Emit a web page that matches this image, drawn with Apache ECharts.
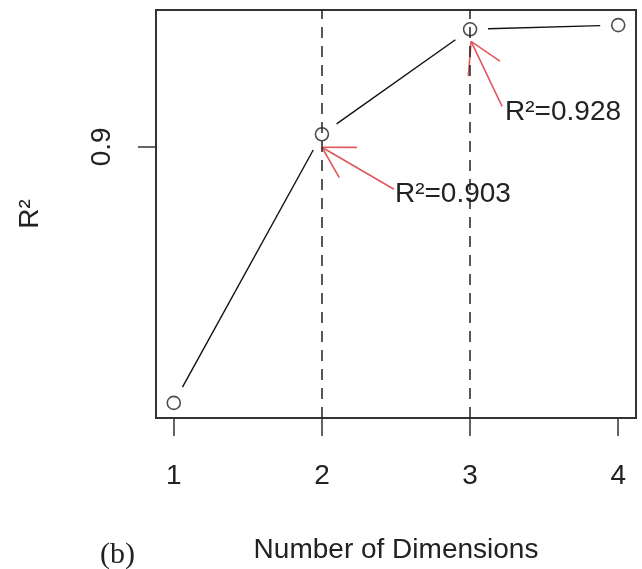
<!DOCTYPE html>
<html><head><meta charset="utf-8">
<script src="https://cdn.jsdelivr.net/npm/echarts@6/dist/echarts.min.js"></script>
<style>html,body{margin:0;padding:0;background:#fff}#c{width:642px;height:569px}</style>
</head><body><div id="c"></div>
<script>
// ---- data ----
const dims = [1, 2, 3, 4];
const r2 = [0.839, 0.903, 0.928, 0.929];
const xTicks = [1, 2, 3, 4];
const yTicks = [0.9];
const dashedAt = [2, 3];
const annDims = [2, 3];
const annValues = [0.903, 0.928];
const annTexts = ['R²=0.903', 'R²=0.928'];
const xTitle = 'Number of Dimensions';
const yTitle = 'R²';
const panelTag = '(b)';

// ---- styles ----
const FONT = '"Liberation Sans", Arial, sans-serif';
const TXT = '#222';
const RED = '#e0585c';
const annStyle = [
  { tip: [0, 13], tail: [72, 55], text: [73, 60] },
  { tip: [1, 12], tail: [32, 77], text: [35, 83] }
];
const GAP = 18;

const chart = echarts.init(document.getElementById('c'), null, { renderer: 'canvas' });

const segData = dims.slice(1).map((d, i) => [dims[i], r2[i], d, r2[i + 1]]);
const annData = annDims.map((d, i) => [d, annValues[i], i]);

function rot(vx, vy, a) {
  const c = Math.cos(a), s = Math.sin(a);
  return [vx * c - vy * s, vx * s + vy * c];
}

chart.setOption({
  animation: false,
  backgroundColor: '#fff',
  grid: { left: 156, right: 6, top: 10, bottom: 146, show: true, borderColor: '#333', borderWidth: 2, backgroundColor: 'transparent' },
  xAxis: {
    type: 'value', min: 0.88, max: 4.12,
    splitLine: { show: false },
    axisLine: { show: false },
    axisTick: { show: true, customValues: xTicks, length: 18, lineStyle: { color: '#333', width: 1.5 } },
    axisLabel: { customValues: xTicks, fontSize: 28, fontFamily: FONT, color: TXT, margin: 44 },
    name: xTitle, nameLocation: 'middle', nameGap: 118,
    nameTextStyle: { fontSize: 28, fontFamily: FONT, color: TXT }
  },
  yAxis: {
    type: 'value', min: 0.8354, max: 0.9326,
    splitLine: { show: false },
    axisLine: { show: false },
    axisTick: { show: true, customValues: yTicks, length: 18, lineStyle: { color: '#333', width: 1.5 } },
    axisLabel: { customValues: yTicks, rotate: 90, fontSize: 28, fontFamily: FONT, color: TXT, margin: 40, formatter: v => String(v) },
    name: yTitle, nameLocation: 'middle', nameRotate: 90, nameGap: 112,
    nameTextStyle: { fontSize: 28, fontFamily: FONT, color: TXT }
  },
  graphic: [{
    type: 'text', left: 100, top: 540,
    style: { text: panelTag, font: '30px "Liberation Serif", "Times New Roman", serif', fill: TXT }
  }],
  series: [
    {
      type: 'custom',
      data: segData,
      encode: { x: [0, 2], y: [1, 3] },
      renderItem: (params, api) => {
        const p1 = api.coord([api.value(0), api.value(1)]);
        const p2 = api.coord([api.value(2), api.value(3)]);
        const dx = p2[0] - p1[0], dy = p2[1] - p1[1];
        const L = Math.hypot(dx, dy), ux = dx / L, uy = dy / L;
        return {
          type: 'line',
          shape: { x1: p1[0] + ux * GAP, y1: p1[1] + uy * GAP, x2: p2[0] - ux * GAP, y2: p2[1] - uy * GAP },
          style: { stroke: '#111', lineWidth: 1.4 }
        };
      },
      z: 2
    },
    {
      type: 'scatter',
      data: dims.map((d, i) => [d, r2[i]]),
      symbol: 'circle', symbolSize: 13,
      itemStyle: { color: 'rgba(0,0,0,0)', borderColor: '#222', borderWidth: 1.6 },
      markLine: {
        silent: true, symbol: 'none', label: { show: false },
        lineStyle: { type: [11, 8], color: '#222', width: 1.5 },
        data: dashedAt.map(x => ({ xAxis: x }))
      },
      z: 3
    },
    {
      type: 'custom',
      data: annData,
      encode: { x: 0, y: 1 },
      renderItem: (params, api) => {
        const p = api.coord([api.value(0), api.value(1)]);
        const st = annStyle[api.value(2)];
        const tip = [p[0] + st.tip[0], p[1] + st.tip[1]];
        const tail = [p[0] + st.tail[0], p[1] + st.tail[1]];
        const vx = tail[0] - tip[0], vy = tail[1] - tip[1];
        const L = Math.hypot(vx, vy), ux = vx / L, uy = vy / L;
        const HL = 35, HA = 30 * Math.PI / 180;
        const h1 = rot(ux, uy, HA), h2 = rot(ux, uy, -HA);
        const ls = { stroke: RED, lineWidth: 1.6 };
        return {
          type: 'group',
          children: [
            { type: 'line', shape: { x1: tail[0], y1: tail[1], x2: tip[0], y2: tip[1] }, style: ls },
            { type: 'line', shape: { x1: tip[0], y1: tip[1], x2: tip[0] + h1[0] * HL, y2: tip[1] + h1[1] * HL }, style: ls },
            { type: 'line', shape: { x1: tip[0], y1: tip[1], x2: tip[0] + h2[0] * HL, y2: tip[1] + h2[1] * HL }, style: ls },
            { type: 'text', style: { x: p[0] + st.text[0], y: p[1] + st.text[1], text: annTexts[api.value(2)], font: '28px ' + FONT, fill: TXT, align: 'left', verticalAlign: 'middle' } }
          ]
        };
      },
      z: 4
    }
  ]
});
</script>
</body></html>
